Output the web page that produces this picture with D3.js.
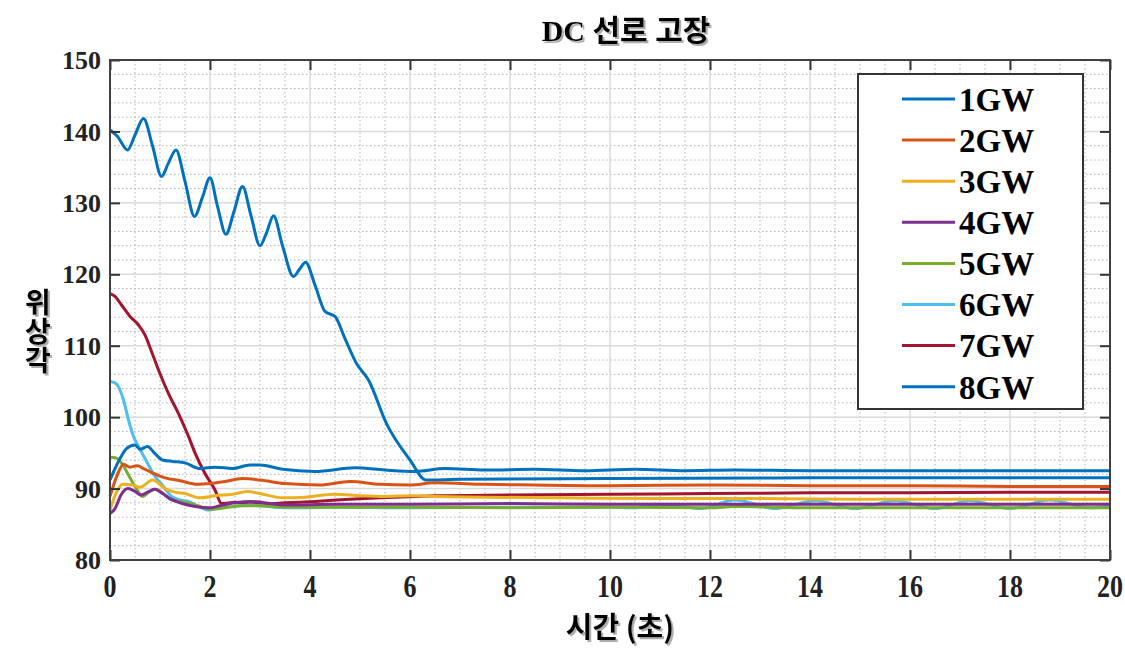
<!DOCTYPE html>
<html><head><meta charset="utf-8">
<script src="https://cdn.jsdelivr.net/npm/d3@7"></script>
<style>body{margin:0;background:#fff}svg{display:block}</style>
</head><body>
<svg id="c" width="1125" height="657"></svg>
<script>
const titleText = "DC 선로 고장";
const xLabel = "시간 (초)";
const yLabel = "위상각";
const xTicks = [0,2,4,6,8,10,12,14,16,18,20];
const yTicks = [80,90,100,110,120,130,140,150];
const seriesNames = ["1GW","2GW","3GW","4GW","5GW","6GW","7GW","8GW"];
const seriesColors = ["#0072BD","#D95319","#EDB120","#7E2F8E","#77AC30","#4DBEEE","#A2142F","#0072BD"];

const t1 = [0,0.1,0.2,0.33,0.5,0.6,0.75,0.9,1.05,1.25,1.5,1.8,2.1,2.45,2.8,3.0,3.45,4.1,4.9,5.5,6.1,6.7,7.5,8.5,9.5,10.5,11.5,12.5,14,16,18,20];
const v1 = [91.2,92.8,94.2,95.6,96.1,95.5,95.9,94.9,94.0,93.8,93.6,92.8,93.0,92.8,93.3,93.3,92.7,92.4,92.9,92.6,92.4,92.8,92.6,92.7,92.5,92.7,92.5,92.6,92.5,92.5,92.5,92.5];
const t2 = [0,0.15,0.27,0.4,0.55,0.67,0.85,1.1,1.4,1.75,2.0,2.3,2.65,3.0,3.5,4.2,4.8,5.4,6.0,6.5,7.5,8.5,10,12,14,16,18,20];
const v2 = [88.9,92.0,93.4,93.0,93.2,92.8,92.2,91.5,91.1,90.6,90.7,91.0,91.4,91.2,90.7,90.5,91.0,90.6,90.5,90.8,90.6,90.5,90.4,90.5,90.4,90.4,90.3,90.3];
const t3 = [0,0.1,0.25,0.45,0.6,0.85,1.1,1.3,1.5,1.8,2.1,2.45,2.75,3.0,3.45,3.9,4.5,5.0,5.5,6.0,6.5,7.5,9,11,13,15,17,20];
const v3 = [87.0,89.0,90.6,90.5,90.2,91.2,90.0,89.5,89.3,88.7,89.0,89.2,89.6,89.3,88.7,88.8,89.2,89.0,88.9,89.0,88.9,88.8,88.7,88.6,88.6,88.5,88.5,88.5];
const t4 = [0,0.1,0.22,0.36,0.5,0.62,0.78,0.9,1.05,1.2,1.4,1.7,2.0,2.2,2.5,2.8,3.5,4.5,6,8,10,12,14,16,18,20];
const v4 = [86.5,87.2,89.1,90.0,89.6,89.1,89.6,89.9,89.3,88.6,88.0,87.5,87.3,87.6,88.0,88.2,87.7,87.8,87.8,87.9,87.8,87.8,87.8,87.8,87.8,87.8];
const t5 = [0,0.12,0.25,0.4,0.5,0.65,0.8,0.9,1.05,1.2,1.4,1.6,1.8,2.0,2.3,2.6,3.0,3.5,4,6,8,10,12,12.5,14,16,18,20];
const v5 = [94.4,94.3,93.4,91.5,90.3,88.9,89.6,89.9,89.4,88.5,88.2,87.9,87.5,87.1,87.3,87.6,87.6,87.4,87.4,87.4,87.3,87.4,87.3,87.5,87.3,87.3,87.3,87.3];
const t6 = [0,0.1,0.2,0.27,0.37,0.47,0.57,0.7,0.9,1.07,1.23,1.4,1.57,1.77,1.97,2.2,2.5,2.8,3.0,3.3,3.7,4.5,6,8,10,10.5,10.9,11.4,11.8,12.5,13.3,14.1,14.9,15.7,16.5,17.2,18.0,18.8,19.6,20];
const v6 = [105.0,104.8,103.8,102.4,99.6,97.3,95.9,94.2,91.7,90.3,88.9,88.4,88.2,87.5,87.0,87.3,87.5,87.7,87.6,87.4,87.3,87.4,87.3,87.4,87.4,87.3,87.8,87.5,87.2,88.4,87.2,88.3,87.2,88.3,87.2,88.3,87.2,88.4,87.3,87.6];
const t7 = [0,0.1,0.23,0.4,0.57,0.7,0.83,0.97,1.17,1.37,1.57,1.7,1.9,2.1,2.23,2.5,3.0,3.5,4.1,4.8,5.4,6.1,6.5,8,10,12,14,16,18,20];
const v7 = [117.3,116.9,115.7,114.1,112.9,111.5,109.2,106.6,103.3,100.5,97.3,95.0,92.1,89.8,87.9,88.1,87.8,88.0,88.2,88.5,88.7,88.9,89.0,89.1,89.2,89.3,89.4,89.4,89.5,89.5];
const t8 = [0,0.15,0.35,0.5,0.67,0.85,1.03,1.17,1.32,1.5,1.69,1.85,2.0,2.15,2.32,2.48,2.65,2.82,3.0,3.13,3.27,3.45,3.67,3.8,3.91,4.1,4.3,4.5,4.7,4.93,5.17,5.53,6.0,6.32,7,10,14,20];
const v8 = [140.2,139.3,137.4,139.5,141.8,138.0,133.7,135.6,137.4,133.0,128.1,130.8,133.5,129.5,125.6,128.8,132.3,128.2,124.0,125.8,128.2,124.0,119.7,120.8,121.7,118.5,114.8,114.1,111.0,107.5,105.2,99.1,94.0,91.2,91.3,91.4,91.5,91.5];

const times = [t1,t2,t3,t4,t5,t6,t7,t8];
const vals = [v1,v2,v3,v4,v5,v6,v7,v8];

const svg = d3.select("#c");
const defs = svg.append("defs");
const f = defs.append("filter").attr("id","sh").attr("x","-20%").attr("y","-20%").attr("width","140%").attr("height","140%");
f.append("feDropShadow").attr("dx",2).attr("dy",2).attr("stdDeviation",0.6)
  .attr("flood-color","#9a9a9a").attr("flood-opacity",0.8);

const L=110,R=1110,T=60,B=560;
const x = d3.scaleLinear().domain([0,20]).range([L,R]);
const y = d3.scaleLinear().domain([80,150]).range([B,T]);

// minor grid
const g = svg.append("g");
d3.range(0,20.01,0.5).filter(d=>d%2!==0).forEach(d=>{
  g.append("line").attr("x1",x(d)).attr("x2",x(d)).attr("y1",T).attr("y2",B)
   .attr("stroke","#b0b0b0").attr("stroke-width",1).attr("stroke-dasharray","1.5,2.5");
});
d3.range(80,150.01,2).filter(d=>d%10!==0).forEach(d=>{
  g.append("line").attr("y1",y(d)).attr("y2",y(d)).attr("x1",L).attr("x2",R)
   .attr("stroke","#b0b0b0").attr("stroke-width",1).attr("stroke-dasharray","1.5,2.5");
});
// major grid
xTicks.forEach(d=>{
  g.append("line").attr("x1",x(d)).attr("x2",x(d)).attr("y1",T).attr("y2",B)
   .attr("stroke","#dadada").attr("stroke-width",1.5);
});
yTicks.forEach(d=>{
  g.append("line").attr("y1",y(d)).attr("y2",y(d)).attr("x1",L).attr("x2",R)
   .attr("stroke","#dadada").attr("stroke-width",1.5);
});

// lines
const line = d3.line().x(d=>x(d[0])).y(d=>y(d[1])).curve(d3.curveMonotoneX);
const order = [7,6,5,4,3,2,1,0];
order.forEach(i=>{
  const pts = times[i].map((t,k)=>[t,vals[i][k]]);
  svg.append("path").attr("d",line(pts)).attr("fill","none")
    .attr("stroke",seriesColors[i]).attr("stroke-width",3).attr("stroke-linejoin","round");
});

// axes with inward ticks
const ax = svg.append("g");
const axB = d3.axisBottom(x).tickValues(xTicks).tickSize(-10).tickFormat("");
const axT = d3.axisTop(x).tickValues(xTicks).tickSize(-10).tickFormat("");
const axL = d3.axisLeft(y).tickValues(yTicks).tickSize(-10).tickFormat("");
const axR = d3.axisRight(y).tickValues(yTicks).tickSize(-10).tickFormat("");
ax.append("g").attr("transform",`translate(0,${B})`).call(axB);
ax.append("g").attr("transform",`translate(0,${T})`).call(axT);
ax.append("g").attr("transform",`translate(${L},0)`).call(axL);
ax.append("g").attr("transform",`translate(${R},0)`).call(axR);
ax.selectAll(".domain").remove();
ax.selectAll(".tick line").attr("stroke","#333").attr("stroke-width",2);
svg.append("rect").attr("x",L).attr("y",T).attr("width",R-L).attr("height",B-T)
  .attr("fill","none").attr("stroke","#404040").attr("stroke-width",2);

// tick labels
const serif = "'Liberation Serif','Times New Roman',serif";
yTicks.forEach(d=>{
  svg.append("text").attr("x",101).attr("y",y(d)).attr("dy","0.35em")
    .attr("text-anchor","end").attr("font-family",serif).attr("font-weight","bold")
    .attr("font-size",26).attr("fill","#222").text(d);
});
xTicks.forEach(d=>{
  svg.append("text").attr("transform",`translate(${x(d)},${597}) scale(1,1.22)`)
    .attr("text-anchor","middle").attr("font-family",serif).attr("font-weight","bold")
    .attr("font-size",26).attr("fill","#222").text(d);
});

// title and labels
const kfont = "'Noto Sans CJK KR','Noto Sans',sans-serif";
svg.append("text").attr("x",626).attr("y",41).attr("text-anchor","middle")
  .attr("font-family","'Liberation Serif','Noto Sans CJK KR',serif").attr("font-weight","bold")
  .attr("font-size",30).attr("fill","#000").attr("filter","url(#sh)").text(titleText);
svg.append("text").attr("x",620).attr("y",638).attr("text-anchor","middle")
  .attr("font-family",kfont).attr("font-weight","bold").attr("font-size",29)
  .attr("fill","#000").attr("filter","url(#sh)").text(xLabel);
svg.append("text").attr("x",38).attr("y",288).attr("text-anchor","start")
  .attr("font-family",kfont).attr("font-weight","bold").attr("font-size",28)
  .attr("letter-spacing",1)
  .style("writing-mode","vertical-rl").style("text-orientation","upright")
  .attr("fill","#000").attr("filter","url(#sh)").text(yLabel);

// legend
const lg = svg.append("g");
lg.append("rect").attr("x",858).attr("y",74).attr("width",225).attr("height",335)
  .attr("fill","#fff").attr("stroke","#333").attr("stroke-width",2);
seriesNames.forEach((n,i)=>{
  const cy = 99 + i*41.1;
  lg.append("line").attr("x1",902).attr("x2",955).attr("y1",cy).attr("y2",cy)
    .attr("stroke",seriesColors[i]).attr("stroke-width",3);
  lg.append("text").attr("x",959).attr("y",cy).attr("dy","0.36em")
    .attr("font-family",serif).attr("font-weight","bold").attr("font-size",33)
    .attr("fill","#000").text(n);
});
</script>
</body></html>
